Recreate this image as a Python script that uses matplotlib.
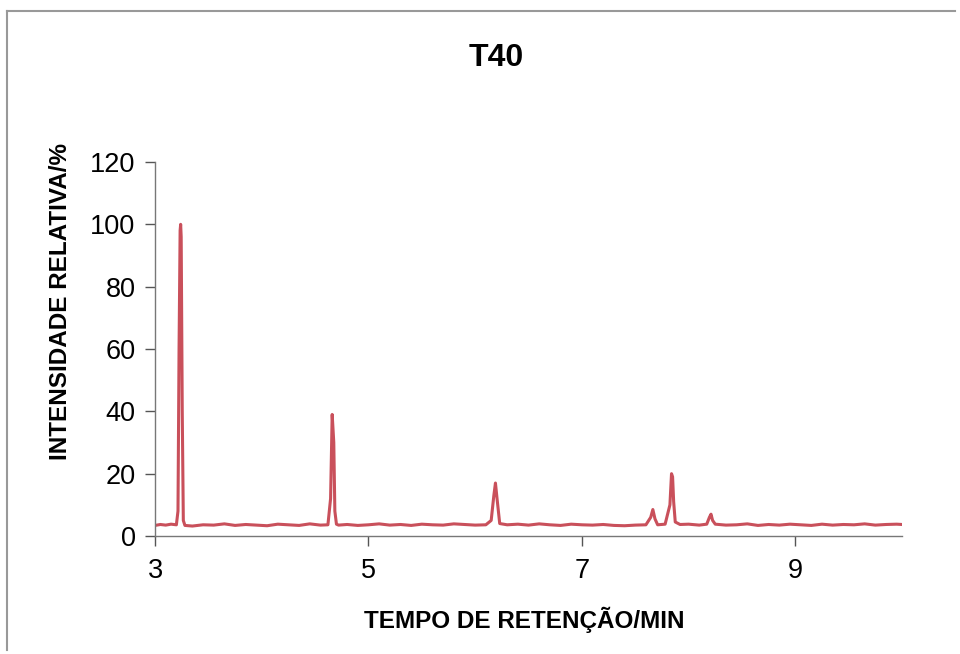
import matplotlib
matplotlib.use("Agg")
import matplotlib.pyplot as plt
from matplotlib.lines import Line2D

# Chromatogram trace (retention time in min, relative intensity in %)
time_min = [3.00, 3.05, 3.10, 3.15, 3.20, 3.215, 3.225, 3.235, 3.24, 3.245, 3.255, 3.265, 3.28,
            3.35, 3.45, 3.55, 3.65, 3.75, 3.85, 3.95, 4.05, 4.15, 4.25, 4.35, 4.45, 4.55, 4.62,
            4.645, 4.66, 4.675, 4.685, 4.70, 4.72, 4.80, 4.90, 5.00, 5.10, 5.20, 5.30, 5.40,
            5.50, 5.60, 5.70, 5.80, 5.90, 6.00, 6.10, 6.15, 6.175, 6.19, 6.205, 6.23, 6.30,
            6.40, 6.50, 6.60, 6.70, 6.80, 6.90, 7.00, 7.10, 7.20, 7.30, 7.40, 7.50, 7.60,
            7.645, 7.665, 7.685, 7.71, 7.78, 7.825, 7.84, 7.85, 7.86, 7.875, 7.92, 8.00,
            8.10, 8.17, 8.195, 8.21, 8.225, 8.25, 8.35, 8.45, 8.55, 8.65, 8.75, 8.85, 8.95,
            9.05, 9.15, 9.25, 9.35, 9.45, 9.55, 9.65, 9.75, 9.85, 9.95, 10.00]
intensity = [3.4, 3.7, 3.5, 3.8, 3.6, 8.0, 60.0, 98.0, 100.0, 96.0, 40.0, 5.0, 3.4,
             3.2, 3.6, 3.5, 3.9, 3.4, 3.7, 3.5, 3.3, 3.8, 3.6, 3.4, 3.9, 3.5, 3.6,
             12.0, 39.0, 30.0, 8.0, 3.8, 3.5, 3.7, 3.4, 3.6, 3.9, 3.5, 3.7, 3.4,
             3.8, 3.6, 3.5, 3.9, 3.7, 3.5, 3.6, 5.0, 13.0, 17.0, 12.0, 4.0, 3.6,
             3.8, 3.5, 3.9, 3.6, 3.4, 3.8, 3.6, 3.5, 3.7, 3.4, 3.3, 3.5, 3.6,
             6.0, 8.5, 5.5, 3.6, 3.8, 10.0, 20.0, 19.0, 11.0, 4.5, 3.7, 3.8,
             3.5, 3.8, 6.0, 7.0, 5.0, 3.8, 3.5, 3.6, 3.9, 3.4, 3.7, 3.5, 3.8,
             3.6, 3.4, 3.8, 3.5, 3.7, 3.6, 3.9, 3.5, 3.7, 3.8, 3.7]

x_ticks = [3, 5, 7, 9]
y_ticks = [0, 20, 40, 60, 80, 100, 120]
title = "T40"
x_label = "TEMPO DE RETENÇÃO/MIN"
y_label = "INTENSIDADE RELATIVA/%"

plt.rcParams['font.family'] = ['Liberation Sans', 'DejaVu Sans']

fig = plt.figure(figsize=(9.6, 6.54), dpi=100)
ax = fig.add_axes([0.1615, 0.1804, 0.7781, 0.5719])

ax.plot(time_min, intensity, color="#C9505B", linewidth=2.2)

ax.set_xlim(3, 10)
ax.set_ylim(0, 120)
ax.set_xticks(x_ticks)
ax.set_yticks(y_ticks)
ax.tick_params(axis='both', labelsize=19.5, direction='out', length=7, width=1, color='#555555')
ax.tick_params(axis='x', pad=9)
ax.tick_params(axis='y', pad=7)

for s in ['top', 'right']:
    ax.spines[s].set_visible(False)
for s in ['left', 'bottom']:
    ax.spines[s].set_color('#777777')
    ax.spines[s].set_linewidth(1.0)

ax.set_xlabel(x_label, fontsize=17.5, fontweight='bold', va='center')
ax.set_ylabel(y_label, fontsize=17.5, fontweight='bold', va='center')
ax.xaxis.set_label_coords(0.494, -0.2246)
ax.yaxis.set_label_coords(-0.127, 0.626)
fig.text(0.517, 0.912, title, ha='center', va='center', fontsize=23, fontweight='bold')

# outer chart border
fig.add_artist(Line2D([7/960, 7/960], [1 - 11/654, 1 - 650/654], color='#999999', lw=1.5, transform=fig.transFigure))
fig.add_artist(Line2D([7/960, 955/960], [1 - 11/654, 1 - 11/654], color='#999999', lw=1.5, transform=fig.transFigure))

fig.savefig("out.png", dpi=100)
